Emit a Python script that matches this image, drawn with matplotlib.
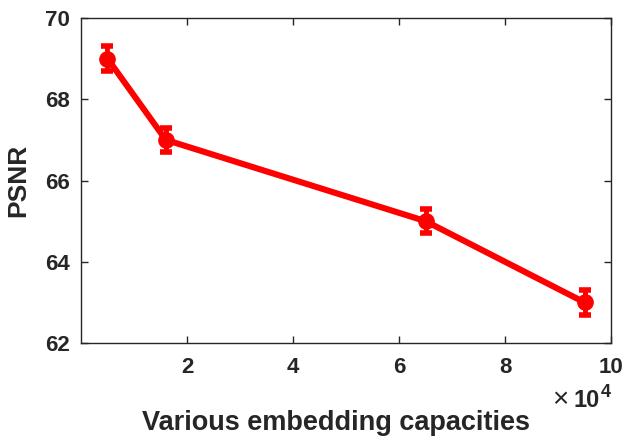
import matplotlib
matplotlib.use("Agg")
import matplotlib.pyplot as plt

# embedding capacity (x 10^4 bits) and PSNR (dB)
capacity = [0.5, 1.6, 6.5, 9.5]
psnr = [69, 67, 65, 63]
psnr_err = [0.3, 0.3, 0.3, 0.3]
xticks = [2, 4, 6, 8, 10]
yticks = [62, 64, 66, 68, 70]

plt.rcParams['font.family'] = ['Liberation Sans', 'DejaVu Sans']
plt.rcParams['font.weight'] = 'bold'

axcol = '#262626'

fig = plt.figure(figsize=(6.26, 4.36), dpi=100)
fig.subplots_adjust(left=81 / 626, right=611 / 626, top=1 - 18 / 436, bottom=1 - 343 / 436)
ax = fig.add_subplot(111)

ax.errorbar(capacity, psnr, yerr=psnr_err, color='#ff0000', lw=4.4, marker='o',
            markersize=11, elinewidth=3.5, capsize=4, capthick=4)

ax.set_xlim(0, 10)
ax.set_ylim(62, 70)
ax.set_xticks(xticks)
ax.set_yticks(yticks)

ax.tick_params(direction='in', length=5, width=1, colors=axcol, labelsize=16,
               top=True, right=True)
ax.tick_params(axis='x', pad=10)
ax.tick_params(axis='y', pad=8)
for s in ax.spines.values():
    s.set_color(axcol)
    s.set_linewidth(1)

# exponent label like MATLAB's  x10^4
ax.text(0.919, -0.197, '\u00d7', transform=ax.transAxes, ha='right', va='baseline',
        fontsize=20, fontweight='normal', color=axcol)
ax.text(0.979, -0.197, '10', transform=ax.transAxes, ha='right', va='baseline',
        fontsize=17, color=axcol)
ax.text(1.0, -0.166, '4', transform=ax.transAxes, ha='right', va='baseline',
        fontsize=13, color=axcol)

ax.set_xlabel('Various embedding capacities', fontsize=19.5, fontweight='bold', color=axcol)
ax.xaxis.set_label_coords(0.481, -0.205)
ax.set_ylabel('PSNR', fontsize=19, fontweight='bold', color=axcol)
ax.yaxis.set_label_coords(-0.095, 0.5)

fig.savefig('out.png', dpi=100)
